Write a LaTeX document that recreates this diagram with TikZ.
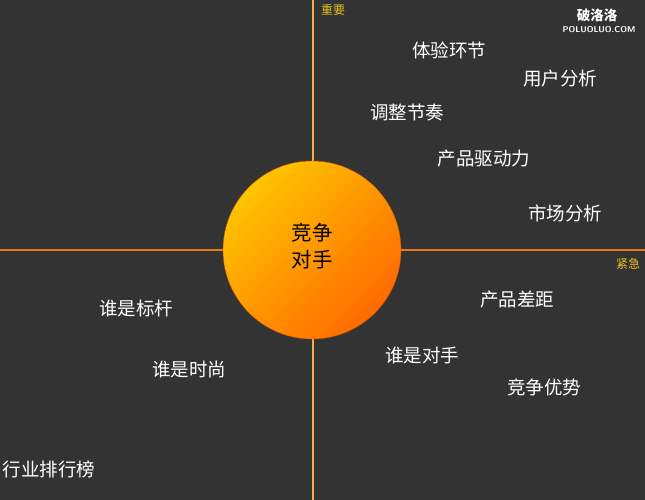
\documentclass[tikz,border=0pt]{standalone}
\usepackage{fontspec}
\newfontfamily\cjk{Noto Sans CJK SC}
\definecolor{bg}{HTML}{333333}
\definecolor{vline}{HTML}{F0B040}
\definecolor{hline}{HTML}{E8771E}
\definecolor{gold}{HTML}{E8C020}
\definecolor{cyel}{HTML}{FFC400}
\definecolor{corg}{HTML}{FF6A00}
\tikzset{
  lbl/.style={text=white, font=\cjk\fontsize{18.5}{21}\selectfont, inner sep=0pt},
  axlbl/.style={text=gold, font=\cjk\fontsize{12}{14}\selectfont, inner sep=0pt},
  wm/.style={text=white, inner sep=0pt}
}
\begin{document}
\begin{tikzpicture}[x=1pt,y=-1pt]
\fill[bg] (0,0) rectangle (645,500);
\useasboundingbox (0,0) rectangle (645,500);
\coordinate (vt) at (313,0);
\coordinate (vb) at (313,500);
\coordinate (hl) at (0,250);
\coordinate (hr) at (645,250);
\draw[vline, line width=1.6pt] (vt) -- (vb);
\draw[hline, line width=1.6pt] (hl) -- (hr);
\node[circle, minimum size=178pt, inner sep=0pt, draw=corg!80!black, line width=0.4pt,
  shading=axis, top color=cyel, bottom color=corg, shading angle=45] (c) at (312,250) {};
\node[text=black, font=\cjk\fontsize{20.5}{27}\selectfont, align=center, inner sep=0pt] (ct) at (312,246) {竞争\\对手};
\node[axlbl] (zy) at (333,10) {重要};
\node[axlbl] (jj) at (628,264) {紧急};
\node[lbl] (a1) at (449,50) {体验环节};
\node[lbl] (a2) at (560,78) {用户分析};
\node[lbl] (a3) at (407,113) {调整节奏};
\node[lbl] (a4) at (484,159) {产品驱动力};
\node[lbl] (a5) at (565,213) {市场分析};
\node[lbl] (b1) at (517,300) {产品差距};
\node[lbl] (b2) at (422,355) {谁是对手};
\node[lbl] (b3) at (544,387) {竞争优势};
\node[lbl] (d1) at (136,308) {谁是标杆};
\node[lbl] (d2) at (189,369) {谁是时尚};
\node[lbl] (d3) at (49,469) {行业排行榜};
\node[wm, font=\cjk\bfseries\fontsize{13.5}{14}\selectfont] (w1) at (597,15) {破洛洛};
\node[wm, font=\sffamily\bfseries\fontsize{8.5}{9}\selectfont] (w2) at (599,30) {POLUOLUO.COM};
\end{tikzpicture}
\end{document}
